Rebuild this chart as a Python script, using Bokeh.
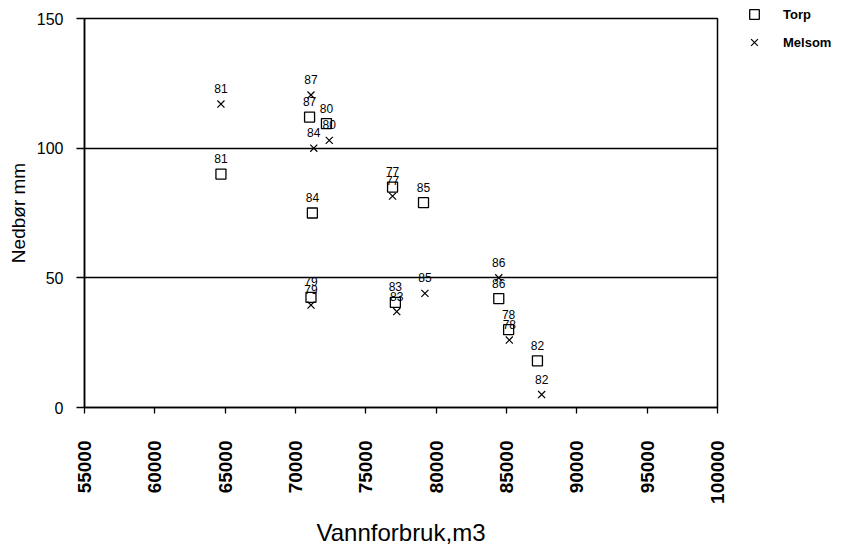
import math
from bokeh.plotting import figure
from bokeh.layouts import row
from bokeh.models import (ColumnDataSource, FixedTicker, Legend, LegendItem, Range1d,
                          NumeralTickFormatter)
from bokeh.core.properties import value
from bokeh.embed import file_html
from bokeh.resources import INLINE

# ---- data ----
years = ["81", "87", "80", "84", "77", "85", "79", "83", "86", "78", "82"]
torp_x = [64700, 71000, 72200, 71200, 76900, 79100, 71100, 77100, 84450, 85150, 87200]
torp_y = [90, 112, 109.5, 75, 85, 79, 42.5, 40.5, 42, 30, 18]
melsom_years = ["81", "87", "80", "84", "77", "85", "79", "83", "86", "78", "82"]
melsom_x = [64700, 71100, 72400, 71300, 76900, 79200, 71100, 77200, 84450, 85200, 87500]
melsom_y = [117, 120.5, 103, 100, 81.5, 44, 39.5, 37, 50, 26, 5]

x_ticks = [55000, 60000, 65000, 70000, 75000, 80000, 85000, 90000, 95000, 100000]
y_ticks = [0, 50, 100, 150]
grid_lines = [50, 100]
series_names = ["Torp", "Melsom"]

FONT = "Liberation Sans"
H = 548

p = figure(width=740, height=H, output_backend="svg", toolbar_location=None,
           x_range=Range1d(55000, 100000), y_range=Range1d(0, 150),
           min_border_left=84, min_border_right=23, min_border_top=18,
           min_border_bottom=H - 407)

p.background_fill_color = "white"
p.border_fill_color = "white"
p.outline_line_color = "black"
p.outline_line_width = 1.5

p.xgrid.visible = False
p.ygrid.ticker = FixedTicker(ticks=grid_lines)
p.ygrid.grid_line_color = "black"
p.ygrid.grid_line_width = 1.5
p.ygrid.grid_line_alpha = 1.0

# axes
p.xaxis.ticker = FixedTicker(ticks=x_ticks)
p.xaxis.formatter = NumeralTickFormatter(format="0")
p.xaxis.minor_tick_line_color = None
p.xaxis.major_tick_in = 0
p.xaxis.major_tick_out = 6
p.xaxis.major_label_orientation = math.pi / 2
p.xaxis.major_label_standoff = 27
p.xaxis.major_label_text_font = FONT
p.xaxis.major_label_text_font_size = "19px"
p.xaxis.major_label_text_font_style = "bold"
p.xaxis.major_label_text_color = "black"
p.xaxis.axis_label = "Vannforbruk,m3"
p.xaxis.axis_label_text_font = FONT
p.xaxis.axis_label_text_font_size = "24px"
p.xaxis.axis_label_text_font_style = "normal"
p.xaxis.axis_label_standoff = 12
p.xaxis.axis_label_text_color = "black"

p.yaxis.ticker = FixedTicker(ticks=y_ticks)
p.yaxis.minor_tick_line_color = None
p.yaxis.major_tick_in = 0
p.yaxis.major_tick_out = 8
p.yaxis.major_label_standoff = 13
p.yaxis.major_label_text_font = FONT
p.yaxis.major_label_text_font_size = "16px"
p.yaxis.major_label_text_color = "black"
p.yaxis.axis_label = "Nedbør mm"
p.yaxis.axis_label_text_font = FONT
p.yaxis.axis_label_text_font_size = "19px"
p.yaxis.axis_label_text_font_style = "normal"
p.yaxis.axis_label_standoff = 5
p.yaxis.axis_label_text_color = "black"

for ax in (p.xaxis, p.yaxis):
    ax.axis_line_color = "black"
    ax.axis_line_width = 1.5
    ax.major_tick_line_color = "black"
    ax.major_tick_line_width = 1.3

torp_src = ColumnDataSource(dict(x=torp_x, y=torp_y, lab=years))
mel_src = ColumnDataSource(dict(x=melsom_x, y=melsom_y, lab=melsom_years))

sq_style = dict(marker="square", size=10, fill_color=None, line_color="black", line_width=1.3)
x_style = dict(marker="x", size=10, line_color="black", line_width=1.2)

p.scatter("x", "y", source=torp_src, **sq_style)
p.scatter("x", "y", source=mel_src, **x_style)

for src in (torp_src, mel_src):
    p.text("x", "y", text="lab", source=src, text_align="center",
           text_baseline="bottom", y_offset=-11, text_font=value(FONT),
           text_font_size="12px", text_color="black")

# ---- legend panel (separate small figure to the right of the plot) ----
lg = figure(width=106, height=70, output_backend="svg", toolbar_location=None,
            x_range=Range1d(0, 1), y_range=Range1d(0, 1),
            min_border_left=0, min_border_right=0, min_border_top=0, min_border_bottom=0)
lg.axis.visible = False
lg.grid.visible = False
lg.outline_line_color = None
lg.background_fill_color = "white"
lg.border_fill_color = "white"
# renderers only serve as legend swatches; their single point lies outside the view
hidden = dict(x=[-5], y=[-5])
r_t = lg.scatter("x", "y", source=ColumnDataSource(hidden), **sq_style)
r_m = lg.scatter("x", "y", source=ColumnDataSource(hidden), **x_style)

legend = Legend(items=[LegendItem(label=series_names[0], renderers=[r_t]),
                       LegendItem(label=series_names[1], renderers=[r_m])],
                location="top_left", orientation="vertical",
                glyph_width=24, glyph_height=24, label_height=24, spacing=4,
                label_standoff=17, padding=0, margin=2,
                border_line_color=None, background_fill_alpha=0,
                label_text_font=FONT, label_text_font_size="13px",
                label_text_font_style="bold", label_text_color="black")
lg.add_layout(legend, "center")

layout = row(p, lg)
open("out.html", "w").write(file_html(layout, INLINE))
